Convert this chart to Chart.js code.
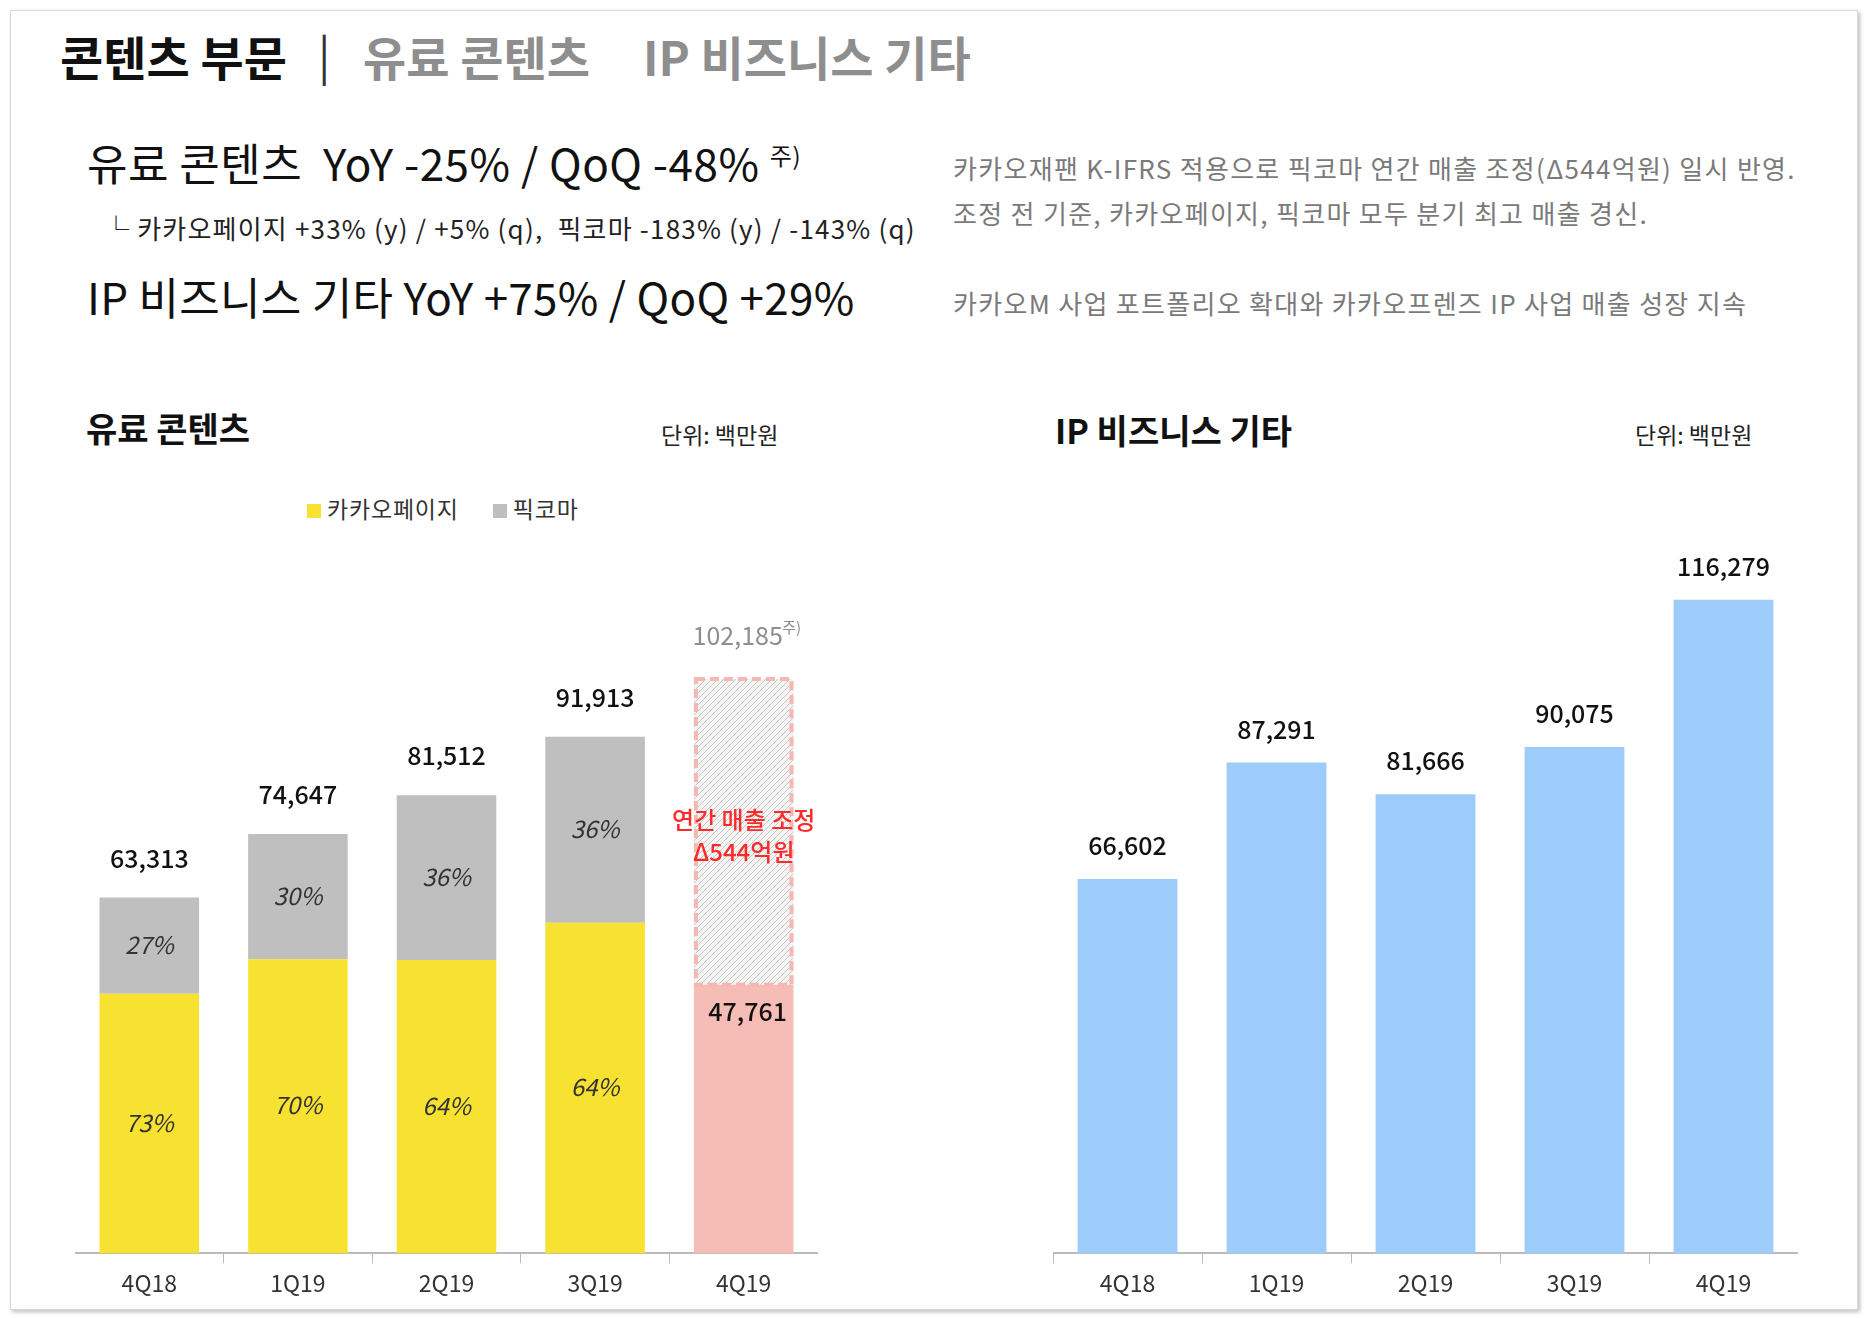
<!DOCTYPE html>
<html>
<head>
<meta charset="utf-8">
<script src="https://cdn.jsdelivr.net/npm/chart.js"></script>
<style>
  body { margin:0; width:1868px; height:1318px; background:#fff; font-family:"Noto Sans CJK KR", sans-serif; position:relative; overflow:hidden; }
  .frame { position:absolute; left:10px; top:10px; width:1846px; height:1298px; border:1px solid #d8d8d8; box-shadow:2px 2px 4px rgba(0,0,0,0.25); }
  .t { position:absolute; white-space:nowrap; line-height:1; }
  canvas { position:absolute; }
</style>
</head>
<body>
<div class="frame"></div>
<div class="t" style="left:60px;top:32px;font-size:47px;font-weight:700;color:#111">콘텐츠 부문</div>
<div class="t" style="left:318px;top:30px;font-size:46px;color:#333">|</div>
<div class="t" style="left:363px;top:32px;font-size:47px;font-weight:700;color:#8e8e8e">유료 콘텐츠</div>
<div class="t" style="left:643px;top:32px;font-size:47px;font-weight:700;color:#8e8e8e">IP 비즈니스 기타</div>

<div class="t" style="left:87px;top:140px;font-size:44px;color:#111;letter-spacing:0.5px">유료 콘텐츠&nbsp; YoY -25% / QoQ -48% <sup style="font-size:24px">주)</sup></div>
<div class="t" style="left:103px;top:215px;font-size:26px;color:#222;letter-spacing:1.2px">└ 카카오페이지 +33% (y) / +5% (q),&nbsp; 픽코마 -183% (y) / -143% (q)</div>
<div class="t" style="left:87px;top:274px;font-size:44px;color:#111;letter-spacing:0.3px">IP 비즈니스 기타 YoY +75% / QoQ +29%</div>

<div class="t" style="left:953px;top:155px;font-size:26px;color:#7a7a7a;letter-spacing:1.3px">카카오재팬 K-IFRS 적용으로 픽코마 연간 매출 조정(Δ544억원) 일시 반영.</div>
<div class="t" style="left:953px;top:200px;font-size:26px;color:#7a7a7a;letter-spacing:1.3px">조정 전 기준, 카카오페이지, 픽코마 모두 분기 최고 매출 경신.</div>
<div class="t" style="left:953px;top:290px;font-size:26px;color:#7a7a7a;letter-spacing:1.3px">카카오M 사업 포트폴리오 확대와 카카오프렌즈 IP 사업 매출 성장 지속</div>

<div class="t" style="left:86px;top:411px;font-size:34px;font-weight:700;color:#111">유료 콘텐츠</div>
<div class="t" style="left:661px;top:423px;font-size:23px;color:#222">단위: 백만원</div>
<div class="t" style="left:1055px;top:413px;font-size:34px;font-weight:700;color:#111">IP 비즈니스 기타</div>
<div class="t" style="left:1635px;top:423px;font-size:23px;color:#222">단위: 백만원</div>

<div class="t" style="left:307px;top:497px;font-size:23px;color:#333;letter-spacing:0.8px"><span style="display:inline-block;width:14px;height:14px;background:#f8e231;margin-right:6px"></span>카카오페이지 <span style="display:inline-block;width:14px;height:14px;background:#bfbfbf;margin:0 6px 0 28px"></span>픽코마</div>

<canvas id="left" style="left:75px;top:500px;width:743px;height:803px"></canvas>
<canvas id="right" style="left:1053px;top:500px;width:745px;height:803px"></canvas>

<script>
const quarters = ['4Q18', '1Q19', '2Q19', '3Q19', '4Q19'];
const kakaoPage = [46200, 52300, 52200, 58800, null];
const piccoma = [17100, 22300, 29300, 33100, null];
const adjusted = [null, null, null, null, 47761];
const beforeAdj = [null, null, null, null, 54424];
const paidTotals = ['63,313', '74,647', '81,512', '91,913', '102,185'];
const kakaoPct = ['73%', '70%', '64%', '64%'];
const piccomaPct = ['27%', '30%', '36%', '36%'];
const ipValues = [66602, 87291, 81666, 90075, 116279];
const ipLabels = ['66,602', '87,291', '81,666', '90,075', '116,279'];

const FONT = '"Noto Sans CJK KR", sans-serif';

function hatch() {
  const c = document.createElement('canvas');
  c.width = 6; c.height = 6;
  const g = c.getContext('2d');
  g.fillStyle = '#f4f4f4'; g.fillRect(0, 0, 6, 6);
  g.strokeStyle = '#c8c8c8'; g.lineWidth = 1;
  g.beginPath(); g.moveTo(0, 6); g.lineTo(6, 0); g.stroke();
  return g.createPattern(c, 'repeat');
}

function xAxis() {
  return {
    grid: { offset: true, drawOnChartArea: false, tickLength: 10, color: '#bbb' },
    border: { color: '#bbb', width: 2 },
    ticks: { color: '#333', font: { family: FONT, size: 23 }, padding: 6 }
  };
}
const yAxis = { display: false, beginAtZero: true, max: 134000, stacked: true };

const paidLabels = {
  id: 'paidLabels',
  afterDatasetsDraw(chart) {
    const ctx = chart.ctx;
    const m0 = chart.getDatasetMeta(0), m1 = chart.getDatasetMeta(1);
    const m2 = chart.getDatasetMeta(2), m3 = chart.getDatasetMeta(3);
    ctx.save();
    ctx.textAlign = 'center';
    for (let i = 0; i < 4; i++) {
      const a = m0.data[i], b = m1.data[i];
      ctx.font = 'italic 24px ' + FONT; ctx.fillStyle = '#333';
      ctx.fillText(kakaoPct[i], a.x, (a.y + a.base) / 2 + 8);
      ctx.fillText(piccomaPct[i], b.x, (b.y + b.base) / 2 + 8);
      ctx.font = '500 25px ' + FONT; ctx.fillStyle = '#111';
      ctx.fillText(paidTotals[i], b.x, b.y - 30);
    }
    const p = m2.data[4], h = m3.data[4];
    ctx.font = '500 25px ' + FONT; ctx.fillStyle = '#111';
    ctx.fillText('47,761', p.x + 4, p.y + 36);
    ctx.strokeStyle = '#f4b8b0'; ctx.lineWidth = 4; ctx.setLineDash([9, 5]);
    ctx.strokeRect(h.x - h.width / 2 + 2, h.y, h.width - 4, h.base - h.y);
    ctx.setLineDash([]);
    ctx.fillStyle = '#8e8e8e'; ctx.font = '25px ' + FONT;
    ctx.fillText('102,185', h.x - 6, h.y - 34);
    ctx.font = '15px ' + FONT; ctx.fillText('주)', h.x + 48, h.y - 46);
    ctx.font = '500 24px ' + FONT; ctx.fillStyle = '#ff2a2a';
    const mid = h.y + 150;
    ctx.fillText('연간 매출 조정', h.x, mid);
    ctx.fillText('Δ544억원', h.x, mid + 32);
    ctx.restore();
  }
};

new Chart(document.getElementById('left'), {
  type: 'bar',
  data: {
    labels: quarters,
    datasets: [
      { data: kakaoPage, backgroundColor: '#f8e231' },
      { data: piccoma, backgroundColor: '#bfbfbf' },
      { data: adjusted, backgroundColor: '#f5bdb5' },
      { data: beforeAdj, backgroundColor: hatch() }
    ]
  },
  options: {
    responsive: false, animation: false,
    layout: { padding: 0 },
    datasets: { bar: { categoryPercentage: 1, barPercentage: 0.67 } },
    plugins: { legend: { display: false }, tooltip: { enabled: false } },
    scales: { x: Object.assign(xAxis(), { stacked: true }), y: yAxis }
  },
  plugins: [paidLabels]
});

const ipLabelPlugin = {
  id: 'ipLabels',
  afterDatasetsDraw(chart) {
    const ctx = chart.ctx;
    ctx.save();
    ctx.textAlign = 'center'; ctx.font = '500 25px ' + FONT; ctx.fillStyle = '#111';
    chart.getDatasetMeta(0).data.forEach((b, i) => ctx.fillText(ipLabels[i], b.x, b.y - 24));
    ctx.restore();
  }
};

new Chart(document.getElementById('right'), {
  type: 'bar',
  data: { labels: quarters, datasets: [{ data: ipValues, backgroundColor: '#9dcbfa' }] },
  options: {
    responsive: false, animation: false,
    layout: { padding: 0 },
    datasets: { bar: { categoryPercentage: 1, barPercentage: 0.67 } },
    plugins: { legend: { display: false }, tooltip: { enabled: false } },
    scales: { x: xAxis(), y: Object.assign({}, yAxis, { stacked: false }) }
  },
  plugins: [ipLabelPlugin]
});
</script>
</body>
</html>
